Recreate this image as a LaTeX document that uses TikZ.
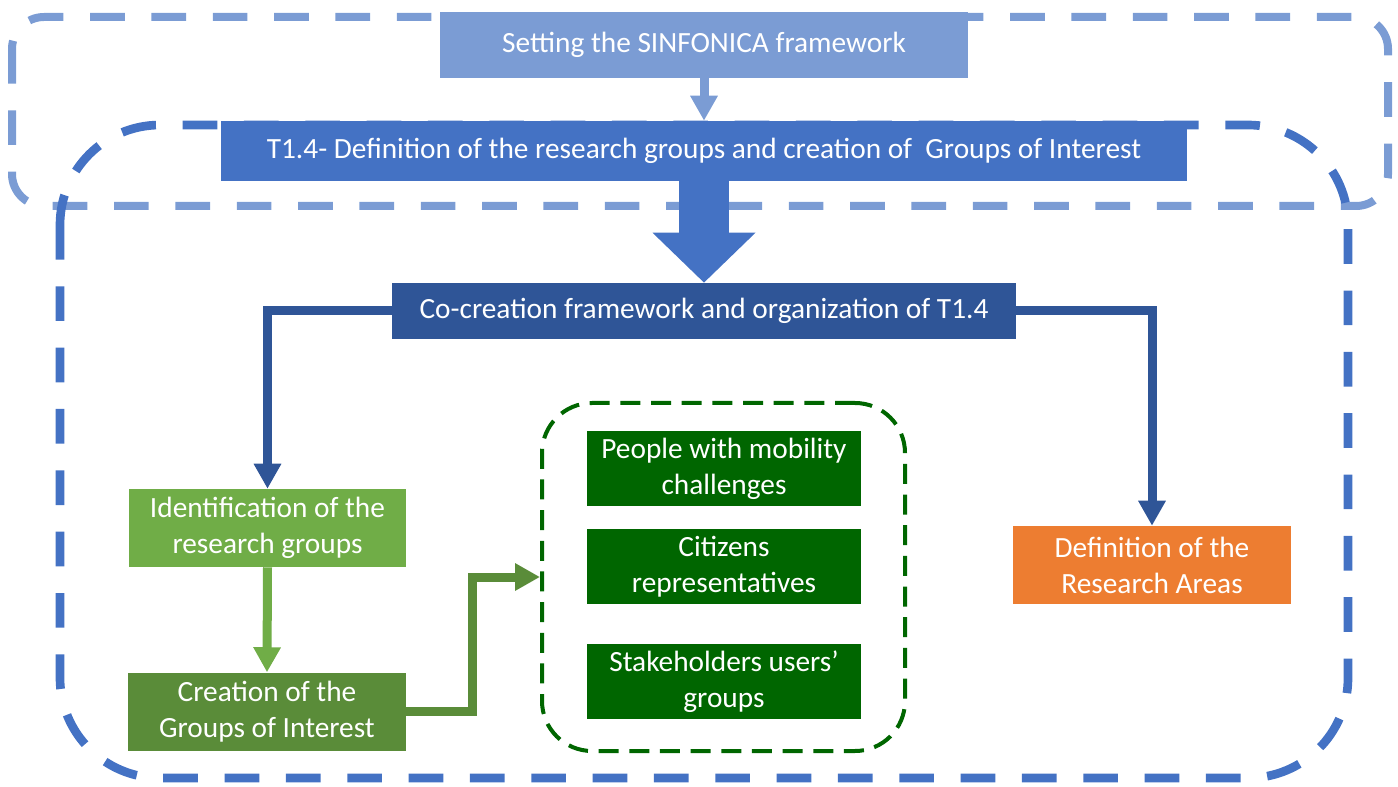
\documentclass[tikz,border=0pt]{standalone}
\usepackage{fontspec}
\setmainfont{Carlito}
\usetikzlibrary{arrows.meta}

\definecolor{lightblue}{HTML}{7B9CD4}
\definecolor{midblue}{HTML}{4472C4}
\definecolor{darkblue}{HTML}{2F5597}
\definecolor{lightgreen}{HTML}{70AD47}
\definecolor{midgreen}{HTML}{5A8C39}
\definecolor{darkgreen}{HTML}{006600}
\definecolor{orange}{HTML}{ED7D31}

\begin{document}
\begin{tikzpicture}[x=0.75pt,y=-0.75pt,
    box/.style={inner sep=0pt,align=center,text=white,font=\fontsize{22}{27}\selectfont},
    stepbox/.style={box,minimum width=208pt,minimum height=58.5pt},
    userbox/.style={box,fill=darkgreen,minimum width=205.5pt,minimum height=56.25pt},
    link/.style={line width=6.75pt,-{Triangle[width=19.5pt,length=18.75pt]}},
    frame/.style={line width=6pt,dash pattern=on 26pt off 20pt}]
  \useasboundingbox (0,0) rectangle (1398,787);

  % Dashed frames behind the boxes
  \draw[frame,color=lightblue,rounded corners=24pt] (12,17) rectangle (1388,206);
  \draw[frame,color=midblue,line width=6.5pt,rounded corners=75pt] (60,125) rectangle (1348,778);
  \node[draw=darkgreen,line width=3pt,dash pattern=on 15pt off 8pt,rounded corners=37.5pt,
        minimum width=272.25pt,minimum height=261pt] (groups) at (723.5,577) {};

  % Top of the chain
  \node[box,fill=lightblue,minimum width=396pt,minimum height=49.5pt] (setting) at (704,45) {Setting the SINFONICA framework};
  \node[box,fill=midblue,minimum width=724.5pt,minimum height=45pt] (t14) at (704,151) {T1.4- Definition of the research groups and creation of~ Groups of Interest};
  \node[box,fill=darkblue,minimum width=468pt,minimum height=42pt] (cocreate) at (704,311) {Co-creation framework and organization of T1.4};

  % Branches
  \node[stepbox,fill=lightgreen] (ident) at (267.5,528) {Identification of the\\research groups};
  \node[stepbox,fill=midgreen] (create) at (267,711.5) {Creation of the\\Groups of Interest};
  \node[stepbox,fill=orange] (defn) at (1152,565) {Definition of the\\Research Areas};

  % Users inside the green frame
  \node[userbox] (people) at (724,468.5) {People with mobility\\challenges};
  \node[userbox] (citizens) at (724,566.5) {Citizens\\representatives};
  \node[userbox] (stake) at (724,681.5) {Stakeholders users’\\groups};

  % Arrows
  \draw[link,color=lightblue] (setting.south) -- (t14.north);
  \draw[line width=37.5pt,color=midblue,-{Triangle[width=75pt,length=37.5pt]}] (t14.south) -- (cocreate.north); % big arrow
  \draw[link,color=darkblue] (cocreate.west) -| (ident.north);
  \draw[link,color=darkblue] (cocreate.east) -| (defn.north);
  \draw[link,color=lightgreen] (ident.south) -- (create.north);
  \draw[link,color=midgreen] (create.east) -- ++(67,0) |- (groups.west);
\end{tikzpicture}
\end{document}
